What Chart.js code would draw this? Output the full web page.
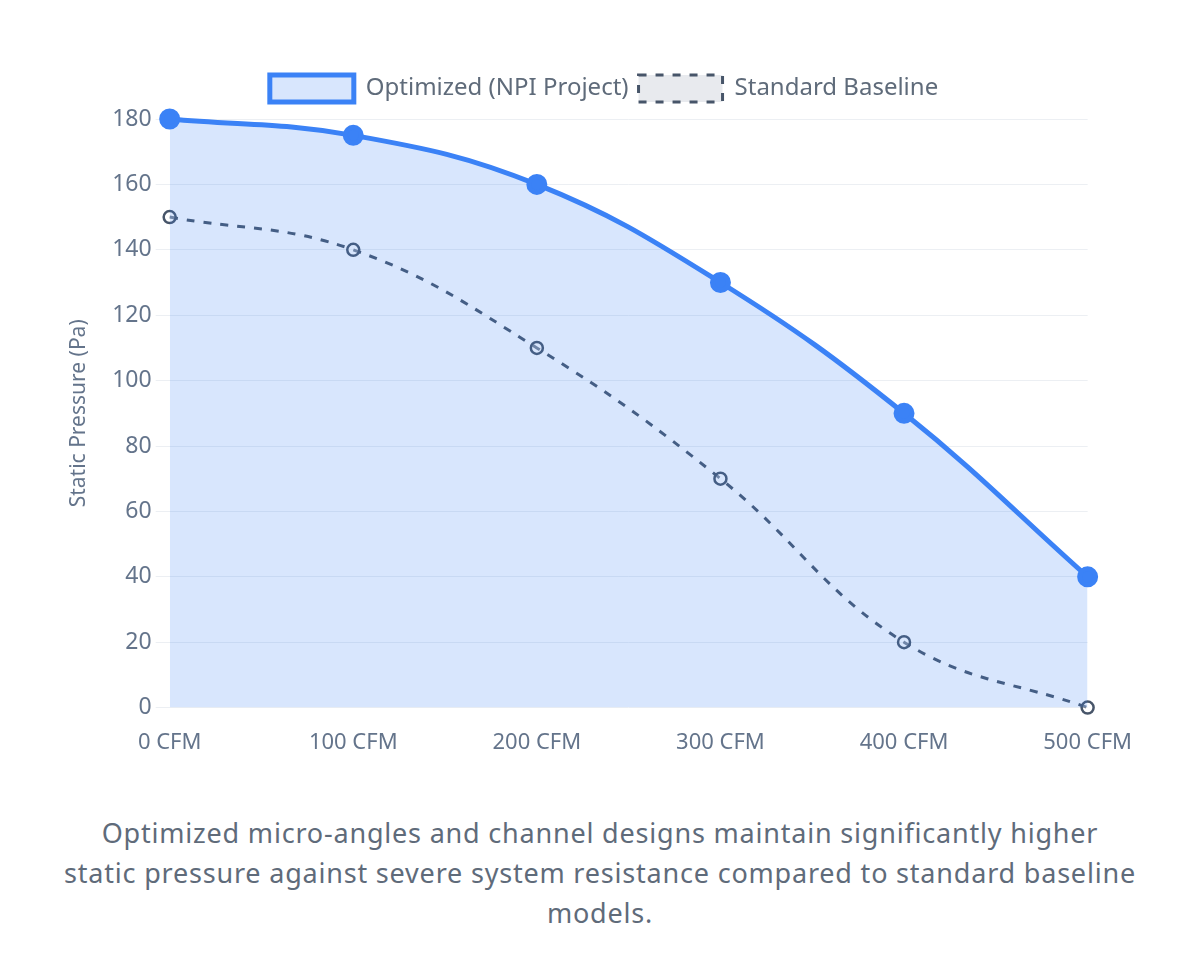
<!DOCTYPE html>
<html>
<head>
<meta charset="utf-8">
<script src="https://cdn.jsdelivr.net/npm/chart.js@4.4.1/dist/chart.umd.min.js"></script>
<style>
  html, body { margin: 0; padding: 0; background: #fff; }
  body { width: 1200px; height: 965px; font-family: "Noto Sans", sans-serif; }
  .wrap { position: absolute; left: 58px; top: 65px; width: 1088px; height: 705px; }
  .caption {
    position: absolute; left: 0; top: 813px; width: 1200px;
    text-align: center; color: #5f6b7a; font-size: 27px; letter-spacing: 0.8px;
    line-height: 40px; margin: 0;
  }
</style>
</head>
<body>
<div class="wrap"><canvas id="fanChart"></canvas></div>
<p class="caption">Optimized micro-angles and channel designs maintain significantly higher<br>static pressure against severe system resistance compared to standard baseline<br>models.</p>
<script>
const airflowLabels = ['0 CFM', '100 CFM', '200 CFM', '300 CFM', '400 CFM', '500 CFM'];
const optimizedPressure = [180, 175, 160, 130, 90, 40];
const baselinePressure = [150, 140, 110, 70, 20, 0];

// extra space between the legend and the plot
const legendGap = {
    id: 'legendGap',
    beforeInit(chart) {
        const fit = chart.legend.fit;
        chart.legend.fit = function () {
            fit.bind(chart.legend)();
            this.height += 7;
        };
    },
};

document.addEventListener('DOMContentLoaded', () => {
    const ctx = document.getElementById('fanChart').getContext('2d');

    new Chart(ctx, {
        type: 'line',
        data: {
            labels: airflowLabels,
            datasets: [
                {
                    label: 'Optimized (NPI Project)',
                    data: optimizedPressure,
                    borderColor: '#3b82f6',
                    backgroundColor: 'rgba(59, 130, 246, 0.2)',
                    borderWidth: 5,
                    fill: 'origin',
                    tension: 0.4,
                    clip: false,
                    pointRadius: 8,
                    pointBackgroundColor: '#3b82f6',
                    pointBorderColor: '#3b82f6',
                },
                {
                    label: 'Standard Baseline',
                    data: baselinePressure,
                    borderColor: '#475569',
                    backgroundColor: 'rgba(100, 116, 139, 0.15)',
                    borderWidth: 3,
                    borderDash: [8, 9],
                    fill: false,
                    tension: 0.4,
                    clip: false,
                    pointRadius: 6,
                    pointBorderWidth: 2.5,
                    pointBackgroundColor: 'rgba(255, 255, 255, 0.3)',
                    pointBorderColor: '#475569',
                },
            ],
        },
        options: {
            responsive: true,
            maintainAspectRatio: false,
            devicePixelRatio: 1,
            animation: false,
            layout: { padding: { left: 4 } },
            plugins: {
                legend: {
                    position: 'top',
                    labels: {
                        color: '#5f6b7a',
                        boxWidth: 84,
                        boxHeight: 27,
                        padding: 10,
                        font: { family: 'Noto Sans', size: 24 },
                    },
                },
                tooltip: { enabled: false },
            },
            scales: {
                x: {
                    grid: { display: false },
                    border: { display: false },
                    ticks: {
                        color: '#64748b',
                        padding: 14,
                        font: { family: 'Noto Sans', size: 22 },
                    },
                },
                y: {
                    min: 0,
                    max: 180,
                    border: { display: false },
                    grid: { color: '#eceff3', tickLength: 14 },
                    ticks: {
                        stepSize: 20,
                        color: '#64748b',
                        padding: 4,
                        font: { family: 'Noto Sans', size: 23 },
                    },
                    title: {
                        display: true,
                        text: 'Static Pressure (Pa)',
                        color: '#64748b',
                        padding: { top: 4, bottom: 17 },
                        font: { family: 'Noto Sans', size: 21 },
                    },
                },
            },
        },
        plugins: [legendGap],
    });
});
</script>
</body>
</html>
